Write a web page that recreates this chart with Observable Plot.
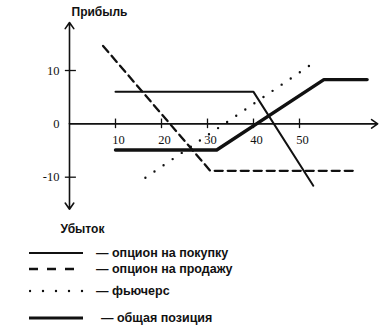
<!DOCTYPE html>
<html>
<head>
<meta charset="utf-8">
<script src="https://cdn.jsdelivr.net/npm/d3@7"></script>
<script src="https://cdn.jsdelivr.net/npm/@observablehq/plot@0.6"></script>
<style>
  html, body { margin: 0; padding: 0; background: #fff; }
  #wrap { width: 379px; height: 330px; position: relative; overflow: hidden; }
  #legend { position: relative; width: 379px; height: 90px; font-family: "Liberation Sans", Arial, sans-serif; font-weight: bold; font-size: 12.5px; color: #111; }
  .row { position: absolute; left: 0; height: 16px; width: 379px; }
  .row svg { position: absolute; left: 29px; top: 0; }
  .row span { position: absolute; top: 0; line-height: 16px; white-space: nowrap; }
</style>
</head>
<body>
<div id="wrap">
  <div id="chart"></div>
  <div id="legend"></div>
</div>
<script>
// ---- data ----
const callX = [10, 40, 53];
const callY = [6, 6, -11.6];
const putX = [7.3, 30.6, 61.7];
const putY = [14.6, -8.8, -8.8];
const futX = [16.5, 53];
const futY = [-10.1, 11.4];
const totalX = [10, 32, 55.3, 64.7];
const totalY = [-4.9, -4.9, 8.3, 8.3];

const xTicks = [10, 20, 30, 40, 50];
const yTicks = [10, 0, -10];
const yTickMarks = [10, -10];

const labelProfit = "Прибыль";
const labelLoss = "Убыток";
const legendLabels = ["— опцион на покупку", "— опцион на продажу", "— фьючерс", "— общая позиция"];

const toRows = (xs, ys) => xs.map((x, i) => ({x, y: ys[i]}));
const call = toRows(callX, callY);
const put = toRows(putX, putY);
const fut = toRows(futX, futY);
const total = toRows(totalX, totalY);

const axes = [
  {x1: 0, y1: 0, x2: 67, y2: 0},
  {x1: 0, y1: 0, x2: 0, y2: 19},
  {x1: 0, y1: 0, x2: 0, y2: -16}
];

const ink = "#111";
const serif = "'Liberation Serif', 'DejaVu Serif', serif";
const sans = "'Liberation Sans', Arial, sans-serif";

const chart = Plot.plot({
  width: 379,
  height: 240,
  marginLeft: 69,
  marginRight: 1.8,
  marginTop: 22,
  marginBottom: 31.3,
  x: {domain: [0, 67], axis: null},
  y: {domain: [-16, 19], axis: null},
  style: {background: "transparent", overflow: "visible"},
  marks: [
    Plot.arrow(axes, {x1: "x1", y1: "y1", x2: "x2", y2: "y2", stroke: ink, strokeWidth: 1.6, headLength: 7, headAngle: 70}),
    Plot.ruleX(xTicks, {x: d => d, y1: -0.9, y2: 0.9, stroke: ink, strokeWidth: 1.3}),
    Plot.ruleY(yTickMarks, {y: d => d, x1: -0.9, x2: 1.5, stroke: ink, strokeWidth: 1.3}),
    Plot.text(xTicks, {x: d => d, y: 0, dx: 3, dy: 16, text: d => String(d), fontFamily: serif, fontSize: 12.5, fill: ink}),
    Plot.text(yTicks, {x: 0, y: d => d, dx: -10, text: d => String(d), textAnchor: "end", fontFamily: serif, fontSize: 12.5, fill: ink}),
    Plot.text([labelProfit], {x: 0, y: 21, dx: 2, text: d => d, textAnchor: "start", fontFamily: sans, fontWeight: "bold", fontSize: 12, fill: ink}),
    Plot.text([labelLoss], {x: 0, y: -19.7, dx: -9, text: d => d, textAnchor: "start", fontFamily: sans, fontWeight: "bold", fontSize: 12, fill: ink}),
    Plot.line(put, {x: "x", y: "y", stroke: ink, strokeWidth: 2.3, strokeDasharray: "8,5"}),
    Plot.line(fut, {x: "x", y: "y", stroke: ink, strokeWidth: 2.4, strokeDasharray: "0,11", strokeLinecap: "round"}),
    Plot.line(call, {x: "x", y: "y", stroke: ink, strokeWidth: 2}),
    Plot.line(total, {x: "x", y: "y", stroke: ink, strokeWidth: 3.4, strokeLinejoin: "round"})
  ]
});
document.getElementById("chart").appendChild(chart);

// ---- legend ----
const legendStyles = [
  {dash: null, width: 2, cap: "butt", len: 54},
  {dash: "9,9", width: 2.3, cap: "butt", len: 45},
  {dash: "0,13", width: 2.4, cap: "round", len: 54},
  {dash: null, width: 2.8, cap: "butt", len: 54}
];
const rowTops = [5, 21, 43, 70];
const textLefts = [96, 96, 96, 101];
const legend = d3.select("#legend");
legendLabels.forEach((lab, i) => {
  const row = legend.append("div").attr("class", "row").style("top", rowTops[i] + "px");
  const svg = row.append("svg").attr("width", 56).attr("height", 16);
  const s = legendStyles[i];
  const ln = svg.append("line").attr("x1", s.cap === "round" ? 1 : 0).attr("x2", s.len).attr("y1", 8).attr("y2", 8)
    .attr("stroke", ink).attr("stroke-width", s.width).attr("stroke-linecap", s.cap);
  if (s.dash) ln.attr("stroke-dasharray", s.dash);
  row.append("span").style("left", textLefts[i] + "px").text(lab);
});
</script>
</body>
</html>
